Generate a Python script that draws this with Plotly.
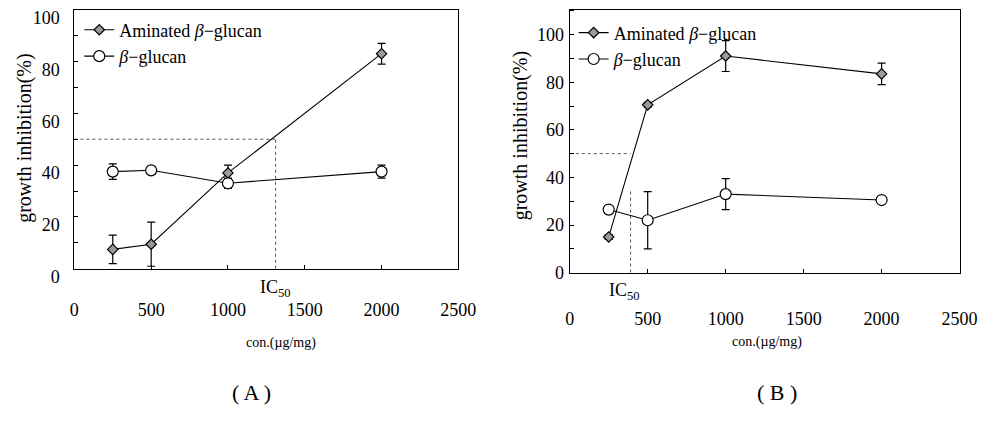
import plotly.graph_objects as go

# concentrations (µg/mg)
conc = [250, 500, 1000, 2000]

# panel A: growth inhibition (%) and error
a_aminated = [7.5, 9.5, 37, 83]
a_aminated_err = [5.5, 8.5, 3, 4]
a_glucan = [37.5, 38, 33, 37.5]
a_glucan_err = [3, 1.5, 2, 2.5]
ic50_a = 1310

# panel B
b_aminated = [15, 70.5, 91, 83.5]
b_aminated_err = [1, 1, 6.5, 4.5]
b_glucan = [26.5, 22, 33, 30.5]
b_glucan_err = [1, 12, 6.5, 1]
ic50_b = 390
ic50_b_drop = 35

x_ticks = [0, 500, 1000, 1500, 2000, 2500]
y_ticks = [0, 20, 40, 60, 80, 100]

FONT = "Liberation Serif"
W, H = 1002, 425

fig = go.Figure()


def add_series(x, y, err, name, symbol, fill, size, xa, ya, legend):
    fig.add_trace(go.Scatter(
        x=x, y=y, mode="lines+markers", name=name,
        xaxis=xa, yaxis=ya, legend=legend,
        line=dict(color="black", width=1.1),
        marker=dict(symbol=symbol, size=size, color=fill,
                    line=dict(color="black", width=1.2)),
        error_y=dict(type="data", array=err, visible=True,
                     color="black", thickness=1.2, width=4),
    ))


def add_ic50(ic, top, drop, xa, ya):
    dot = dict(color="#555555", width=1, dash="dot")
    fig.add_trace(go.Scatter(x=[0, ic], y=[top, top], mode="lines",
                             line=dot, xaxis=xa, yaxis=ya,
                             showlegend=False, hoverinfo="skip"))
    fig.add_trace(go.Scatter(x=[ic, ic], y=[0, drop], mode="lines",
                             line=dot, xaxis=xa, yaxis=ya,
                             showlegend=False, hoverinfo="skip"))


amin_name = "Aminated <i>β</i>−glucan"
glu_name = "<i>β</i>−glucan"

add_ic50(ic50_a, 50, 50, "x", "y")
add_series(conc, a_aminated, a_aminated_err, amin_name, "diamond", "#9a9a9a", 8, "x", "y", "legend")
add_series(conc, a_glucan, a_glucan_err, glu_name, "circle", "white", 11, "x", "y", "legend")

add_ic50(ic50_b, 50, ic50_b_drop, "x2", "y2")
add_series(conc, b_aminated, b_aminated_err, amin_name, "diamond", "#9a9a9a", 8, "x2", "y2", "legend2")
add_series(conc, b_glucan, b_glucan_err, glu_name, "circle", "white", 11, "x2", "y2", "legend2")

axis_common = dict(
    showline=True, linecolor="black", linewidth=1.2, mirror=True,
    ticks="inside", ticklen=4, tickcolor="black",
    showgrid=False, zeroline=False,
    tickfont=dict(family=FONT, size=18, color="black"),
)

fig.update_layout(
    width=W, height=H,
    margin=dict(l=0, r=0, t=0, b=0),
    paper_bgcolor="white", plot_bgcolor="white",
    font=dict(family=FONT, color="black"),
    xaxis=dict(domain=[71 / W, 464 / W], range=[0, 2500], anchor="y",
               tickvals=x_ticks, ticklabelstandoff=24, **axis_common),
    yaxis=dict(domain=[(H - 280) / H, (H - 8) / H], range=[0, 100], anchor="x",
               tickvals=y_ticks, ticklabelshift=8, ticklabelstandoff=10,
               minor=dict(dtick=10, ticks="inside", ticklen=4, tickcolor="black"),
               **axis_common),
    xaxis2=dict(domain=[578 / W, 977 / W], range=[0, 2500], anchor="y2",
                tickvals=x_ticks, ticklabelstandoff=30, **axis_common),
    yaxis2=dict(domain=[(H - 284) / H, (H - 8) / H], range=[0, 110.5], anchor="x2",
                tickvals=y_ticks, ticklabelstandoff=1,
                minor=dict(dtick=10, ticks="inside", ticklen=4, tickcolor="black"),
                **axis_common),
    legend=dict(x=76 / W, y=(H - 10) / H, xanchor="left", yanchor="top",
                bgcolor="rgba(0,0,0,0)", font=dict(family=FONT, size=18),
                tracegroupgap=0, itemwidth=30),
    legend2=dict(x=582 / W, y=(H - 13) / H, xanchor="left", yanchor="top",
                 bgcolor="rgba(0,0,0,0)", font=dict(family=FONT, size=18),
                 tracegroupgap=0, itemwidth=30),
)

ann_font = dict(family=FONT, size=18, color="black")
annotations = [
    dict(text="growth inhibition(%)", x=20 / W, y=(H - 143) / H, textangle=-90,
         font=dict(family=FONT, size=20)),
    dict(text="growth inhibition(%)", x=528 / W, y=(H - 140) / H, textangle=-90,
         font=dict(family=FONT, size=20)),
    dict(text="con.(µg/mg)", x=282 / W, y=(H - 358) / H, font=dict(family=FONT, size=14)),
    dict(text="con.(µg/mg)", x=780 / W, y=(H - 357) / H, font=dict(family=FONT, size=14)),
    dict(text="( A )", x=252 / W, y=(H - 410) / H, font=dict(family=FONT, size=22)),
    dict(text="( B )", x=790 / W, y=(H - 410) / H, font=dict(family=FONT, size=22)),
    dict(text="IC<sub>50</sub>", x=277 / W, y=(H - 301) / H),
    dict(text="IC<sub>50</sub>", x=634 / W, y=(H - 304) / H),
]
for a in annotations:
    a.setdefault("font", ann_font)
    fig.add_annotation(xref="paper", yref="paper", showarrow=False,
                       xanchor="center", yanchor="middle", **a)

fig.write_html("out.html")
